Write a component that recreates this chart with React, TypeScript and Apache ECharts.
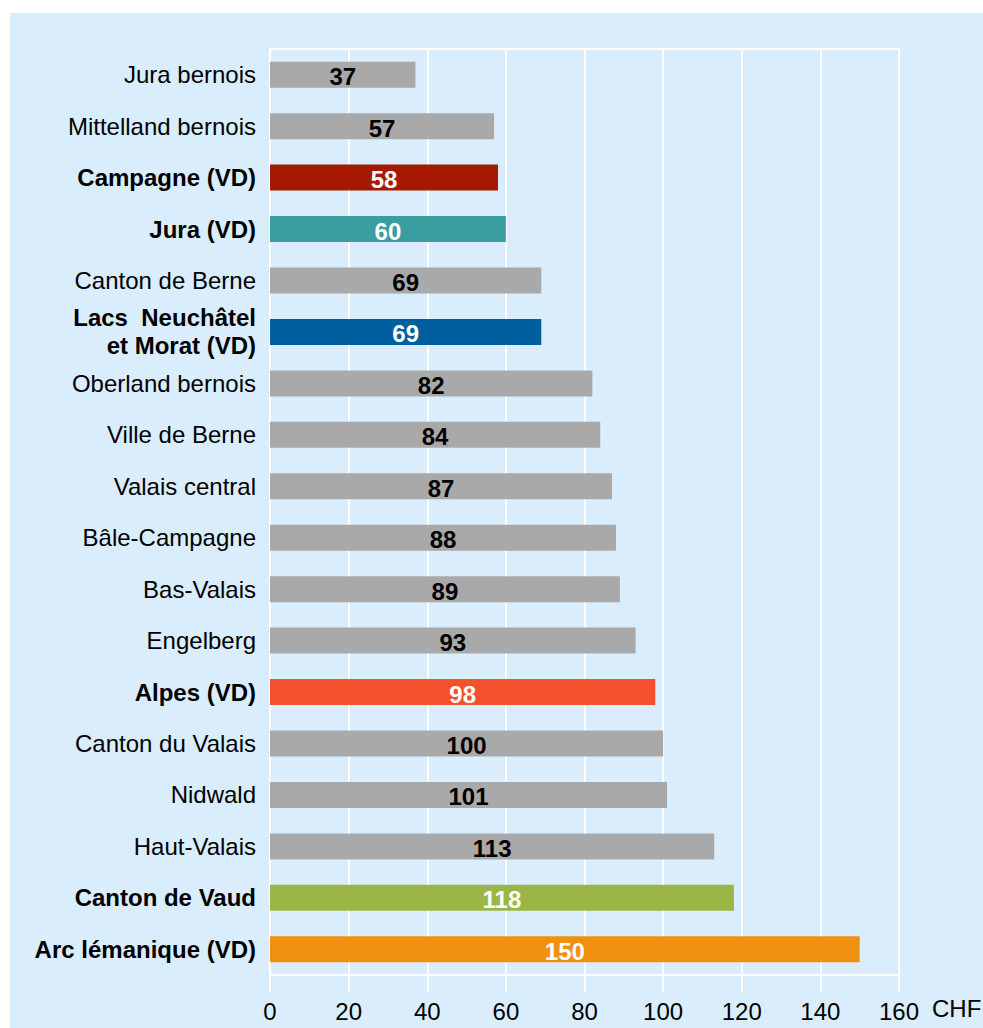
import React, { useEffect, useRef } from "react";
import * as echarts from "echarts";

const categories = [
  "Jura bernois",
  "Mittelland bernois",
  "Campagne (VD)",
  "Jura (VD)",
  "Canton de Berne",
  "Lacs  Neuchâtel\net Morat (VD)",
  "Oberland bernois",
  "Ville de Berne",
  "Valais central",
  "Bâle-Campagne",
  "Bas-Valais",
  "Engelberg",
  "Alpes (VD)",
  "Canton du Valais",
  "Nidwald",
  "Haut-Valais",
  "Canton de Vaud",
  "Arc lémanique (VD)",
];

const values = [37, 57, 58, 60, 69, 69, 82, 84, 87, 88, 89, 93, 98, 100, 101, 113, 118, 150];

const highlighted = [false, false, true, true, false, true, false, false, false, false, false, false, true, false, false, false, true, true];

const barColors = [
  "#a9a9a9", "#a9a9a9", "#a61900", "#389ea0", "#a9a9a9", "#005f9e",
  "#a9a9a9", "#a9a9a9", "#a9a9a9", "#a9a9a9", "#a9a9a9", "#a9a9a9",
  "#f2512b", "#a9a9a9", "#a9a9a9", "#a9a9a9", "#9bb645", "#f0900f",
];

const xTicks = { min: 0, max: 160, interval: 20 };
const axisUnit = "CHF";

const FONT = "Arial, 'Liberation Sans', sans-serif";

export default function App() {
  const ref = useRef<HTMLDivElement>(null);

  useEffect(() => {
    document.body.style.margin = "0";
    const chart = echarts.init(ref.current!, null, { renderer: "svg" });
    const option: any = {
      animation: false,
      backgroundColor: "#ffffff",
      textStyle: { fontFamily: FONT },
      graphic: [
        {
          type: "rect",
          z: -10,
          shape: { x: 10, y: 13, width: 973, height: 1015 },
          style: { fill: "#d9edfd" },
        },
        {
          type: "text",
          z: 10,
          left: 932,
          top: 996,
          style: { text: axisUnit, fill: "#000", font: `24px ${FONT}` },
        },
      ],
      grid: {
        left: 270,
        right: 84,
        top: 49,
        bottom: 53,
        show: true,
        borderColor: "#ffffff",
        borderWidth: 2,
        backgroundColor: "transparent",
      },
      xAxis: {
        type: "value",
        min: xTicks.min,
        max: xTicks.max,
        interval: xTicks.interval,
        axisLine: { show: true, lineStyle: { color: "#ffffff", width: 2 } },
        axisTick: { show: true, length: 17, lineStyle: { color: "#ffffff", width: 2 } },
        splitLine: { show: true, lineStyle: { color: "#ffffff", width: 2 } },
        axisLabel: { color: "#000", fontSize: 24, fontFamily: FONT, margin: 24 },
      },
      yAxis: {
        type: "category",
        inverse: true,
        data: categories,
        axisLine: { show: true, lineStyle: { color: "#ffffff", width: 2 } },
        axisTick: { show: false },
        axisLabel: {
          margin: 14,
          color: "#000",
          fontSize: 24,
          fontFamily: FONT,
          align: "right",
          formatter: (v: string, i: number) => {
            if (highlighted[i]) {
              return v
                .split("\n")
                .map((s) => `{b|${s}}`)
                .join("\n");
            }
            return v;
          },
          rich: {
            b: {
              fontWeight: "bold",
              fontSize: 24,
              fontFamily: FONT,
              color: "#000",
              lineHeight: 28,
              align: "right",
            },
          },
        },
      },
      series: [
        {
          type: "bar",
          barWidth: 26,
          data: values.map((v, i) => ({
            value: v,
            itemStyle: { color: barColors[i] },
            label: { color: barColors[i] === "#a9a9a9" ? "#000" : "#fff" },
          })),
          label: {
            show: true,
            position: "inside",
            fontWeight: "bold",
            fontSize: 24,
            fontFamily: FONT,
            offset: [0, 2],
          },
        },
      ],
    };
    chart.setOption(option);
    return () => chart.dispose();
  }, []);

  return (
    <div
      ref={ref}
      style={{ position: "absolute", left: 0, top: 0, width: 983, height: 1028 }}
    />
  );
}
